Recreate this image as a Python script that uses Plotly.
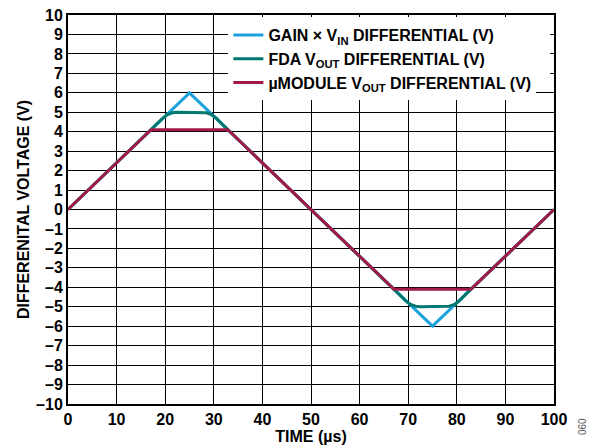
import plotly.graph_objects as go

# Data
gain_x = [0, 25, 75, 100]
gain_y = [0, 6, -6, 0]

fda_x = [0, 18.5, 19.5, 20.5, 21.5, 22.5, 27.5, 28.5, 29.5, 30.5, 31.5,
         68.5, 69.5, 70.5, 71.5, 72.5, 77.5, 78.5, 79.5, 80.5, 81.5, 100]
fda_y = [0, 4.44, 4.7, 4.88, 4.97, 5.0, 5.0, 4.97, 4.88, 4.7, 4.44,
         -4.44, -4.7, -4.88, -4.97, -5.0, -5.0, -4.97, -4.88, -4.7, -4.44, 0]

mod_x = [0, 17.1, 32.9, 67.1, 82.9, 100]
mod_y = [0, 4.1, 4.1, -4.1, -4.1, 0]

x_ticks = list(range(0, 101, 10))
y_ticks = list(range(-10, 11, 1))
y_labels = [("–" + str(-v)) if v < 0 else str(v) for v in y_ticks]

FONT = "Liberation Sans"
FS = 16

fig = go.Figure()
fig.add_trace(go.Scatter(x=gain_x, y=gain_y, mode="lines",
                         line=dict(color="#1ba2dc", width=3),
                         name="GAIN × V<sub>IN</sub> DIFFERENTIAL (V)"))
fig.add_trace(go.Scatter(x=fda_x, y=fda_y, mode="lines",
                         line=dict(color="#00786f", width=3),
                         name="FDA V<sub>OUT</sub> DIFFERENTIAL (V)"))
fig.add_trace(go.Scatter(x=mod_x, y=mod_y, mode="lines",
                         line=dict(color="#a31a4a", width=3),
                         name="µMODULE V<sub>OUT</sub> DIFFERENTIAL (V)"))

fig.update_layout(
    width=597, height=446,
    margin=dict(l=60, r=51, t=7, b=50, autoexpand=False),
    paper_bgcolor="white", plot_bgcolor="white",
    font=dict(family=FONT, size=FS, color="black", weight="bold"),
    showlegend=True,
    legend=dict(x=0.33, y=0.992, xanchor="left", yanchor="top",
                bgcolor="white", borderwidth=0,
                font=dict(family=FONT, size=FS, color="black", weight="bold"),
                tracegroupgap=0, itemwidth=30),
    xaxis=dict(range=[0, 100], tickvals=x_ticks, ticktext=[str(v) for v in x_ticks],
               showgrid=True, gridcolor="black", gridwidth=1.3,
               showline=True, linecolor="black", linewidth=2, mirror=True,
               ticks="", zeroline=False, automargin=False, ticklabeloverflow="allow",
               title=dict(text="TIME (µs)", standoff=0,
                          font=dict(family=FONT, size=FS, weight="bold")),
               tickfont=dict(family=FONT, size=FS, weight="bold")),
    yaxis=dict(range=[-10, 10], tickvals=y_ticks, ticktext=y_labels,
               showgrid=True, gridcolor="black", gridwidth=1.3,
               showline=True, linecolor="black", linewidth=2, mirror=True,
               ticks="", zeroline=False, automargin=False, ticklabeloverflow="allow",
               title=dict(text="DIFFERENITAL VOLTAGE (V)", standoff=2,
                          font=dict(family=FONT, size=FS, weight="bold")),
               tickfont=dict(family=FONT, size=FS, weight="bold")),
)

# white backing behind the legend (covers grid lines as in the reference)
fig.add_shape(type="rect", xref="paper", yref="paper",
              x0=0.34, x1=0.992, y0=0.81, y1=0.995,
              fillcolor="white", line=dict(width=0), layer="above")

fig.add_annotation(text="060", xref="paper", yref="paper", x=1.074, y=-0.085,
                   showarrow=False, textangle=-90,
                   font=dict(family=FONT, size=10, color="#555555", weight="normal"))

fig.write_html("out.html")
